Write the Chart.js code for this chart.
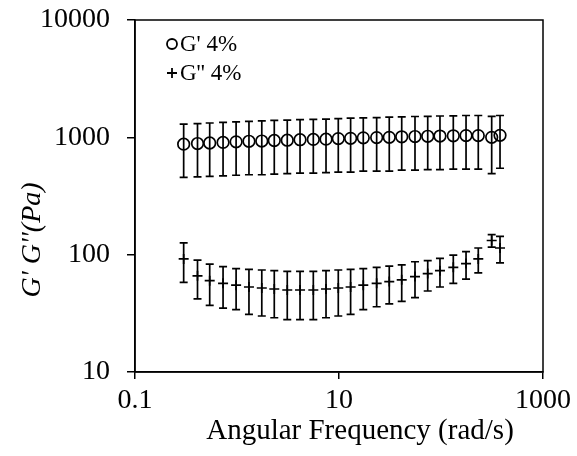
<!DOCTYPE html>
<html>
<head>
<meta charset="utf-8">
<title>G' G'' vs Angular Frequency</title>
<script src="https://cdn.jsdelivr.net/npm/chart.js@4.4.1/dist/chart.umd.min.js"></script>
<style>
    html, body { margin: 0; padding: 0; background: #fff; }
    #wrap { width: 577px; height: 456px; }
</style>
</head>
<body>
<div id="wrap"><canvas id="modulusChart" width="577" height="456"></canvas></div>
<script>
// Frequency sweep of the 4% sample
const frequencies = [0.30, 0.41, 0.54, 0.73, 0.98, 1.31, 1.75, 2.32, 3.11, 4.15, 5.6, 7.46, 9.84,
    13.0, 17.3, 23.4, 31.1, 41.2, 55.6, 74.1, 97.7, 132, 176, 232, 314, 379];

const storageModulus = [875, 885, 895, 905, 915, 925, 930, 940, 945, 955, 960, 965, 975,
    980, 990, 995, 1000, 1010, 1015, 1020, 1025, 1030, 1035, 1035, 1000, 1040];
const storageError = [420, 425, 430, 435, 440, 445, 450, 455, 455, 460, 465, 465, 470,
    475, 475, 480, 485, 485, 490, 490, 495, 495, 500, 500, 510, 495];

const lossModulus = [92, 66, 60, 57, 55, 53, 52, 51, 50, 50, 50, 51, 52,
    53, 55, 57, 59, 61, 65, 69, 73, 78, 84, 92, 132, 114];
const lossError = [34, 24, 23, 22, 21, 22, 22, 22, 22, 22, 22, 22, 22,
    22, 21, 21, 21, 21, 22, 20, 20, 21, 22, 22, 16, 29];

const xTickValues = [0.1, 10, 1000];
const yTickValues = [10, 100, 1000, 10000];

const SERIF = "'Liberation Serif', 'Times New Roman', serif";

document.addEventListener('DOMContentLoaded', function() {
    drawModulusChart();
});

function toPoints(xs, ys) {
    return xs.map((x, i) => ({ x: x, y: ys[i] }));
}

/**
 * Vertical error bars with caps, drawn through the chart scales
 */
const errorBars = {
    id: 'errorBars',
    afterDatasetsDraw(chart) {
        const ctx = chart.ctx;
        const xScale = chart.scales.x;
        const yScale = chart.scales.y;
        const cap = 4;
        ctx.save();
        ctx.strokeStyle = '#000';
        ctx.lineWidth = 1.7;
        chart.data.datasets.forEach(ds => {
            ds.errors.forEach((err, i) => {
                const pt = ds.data[i];
                const px = xScale.getPixelForValue(pt.x);
                const top = yScale.getPixelForValue(pt.y + err);
                const bot = yScale.getPixelForValue(pt.y - err);
                ctx.beginPath();
                ctx.moveTo(px, top);
                ctx.lineTo(px, bot);
                ctx.moveTo(px - cap, top);
                ctx.lineTo(px + cap, top);
                ctx.moveTo(px - cap, bot);
                ctx.lineTo(px + cap, bot);
                ctx.stroke();
            });
        });
        ctx.restore();
    }
};

/**
 * Box frame, legend inside the plot and the two axis titles
 */
const decorations = {
    id: 'decorations',
    afterDraw(chart) {
        const ctx = chart.ctx;
        const area = chart.chartArea;
        ctx.save();

        // frame
        ctx.strokeStyle = '#000';
        ctx.lineWidth = 1.5;
        ctx.strokeRect(area.left, area.top, area.right - area.left, area.bottom - area.top);

        // legend
        ctx.font = '23px ' + SERIF;
        ctx.textAlign = 'left';
        ctx.textBaseline = 'middle';
        chart.data.datasets.forEach((ds, i) => {
            const cy = area.top + 24 + i * 29;
            const cx = area.left + 37;
            ctx.fillStyle = 'rgba(0,0,0,0)';
            ctx.strokeStyle = '#000';
            ctx.lineWidth = 1.8;
            Chart.helpers.drawPoint(ctx, {
                pointStyle: ds.pointStyle,
                radius: 5,
                rotation: 0,
                borderWidth: 1.8
            }, cx, cy);
            ctx.fillStyle = '#000';
            ctx.fillText(ds.label, cx + 8, cy + 1);
        });

        // x axis title
        ctx.fillStyle = '#000';
        ctx.font = '29px ' + SERIF;
        ctx.textAlign = 'center';
        ctx.textBaseline = 'alphabetic';
        ctx.fillText('Angular Frequency (rad/s)', 360, 439);

        // y axis title
        ctx.translate(40, 240);
        ctx.rotate(-Math.PI / 2);
        ctx.font = 'italic 28px ' + SERIF;
        ctx.fillText("G' G''(Pa)", 0, 0);
        ctx.restore();
    }
};

function drawModulusChart() {
    const canvas = document.getElementById('modulusChart');
    if (!canvas) return;

    Chart.defaults.font.family = SERIF;
    Chart.defaults.color = '#000';

    new Chart(canvas, {
        type: 'scatter',
        data: {
            datasets: [
                {
                    label: "G' 4%",
                    data: toPoints(frequencies, storageModulus),
                    errors: storageError,
                    pointStyle: 'circle',
                    pointRadius: 5.8,
                    borderColor: '#000',
                    backgroundColor: 'rgba(0,0,0,0)',
                    borderWidth: 1.7
                },
                {
                    label: "G'' 4%",
                    data: toPoints(frequencies, lossModulus),
                    errors: lossError,
                    pointStyle: 'cross',
                    pointRadius: 5,
                    borderColor: '#000',
                    backgroundColor: '#000',
                    borderWidth: 1.7
                }
            ]
        },
        options: {
            responsive: false,
            animation: false,
            layout: {
                padding: { top: 20, right: 34, left: 0, bottom: 0 }
            },
            plugins: {
                legend: { display: false },
                tooltip: { enabled: false }
            },
            scales: {
                x: {
                    type: 'logarithmic',
                    min: 0.1,
                    max: 1000,
                    afterBuildTicks: axis => {
                        axis.ticks = xTickValues.map(v => ({ value: v }));
                    },
                    afterFit: axis => {
                        axis.height = 84;
                        axis.paddingLeft = 0;
                        axis.paddingRight = 0;
                    },
                    ticks: {
                        autoSkip: false,
                        maxRotation: 0,
                        padding: 5,
                        font: { size: 28 },
                        callback: value => String(value)
                    },
                    grid: {
                        drawOnChartArea: false,
                        tickLength: 7,
                        color: '#000',
                        lineWidth: 1.5
                    },
                    border: { color: '#000', width: 1.5 }
                },
                y: {
                    type: 'logarithmic',
                    min: 10,
                    max: 10000,
                    afterBuildTicks: axis => {
                        axis.ticks = yTickValues.map(v => ({ value: v }));
                    },
                    afterFit: axis => {
                        axis.width = 135;
                        axis.paddingTop = 0;
                        axis.paddingBottom = 0;
                    },
                    ticks: {
                        autoSkip: false,
                        padding: 17,
                        font: { size: 28 },
                        callback: value => String(value)
                    },
                    grid: {
                        drawOnChartArea: false,
                        tickLength: 8,
                        color: '#000',
                        lineWidth: 1.5
                    },
                    border: { color: '#000', width: 1.5 }
                }
            }
        },
        plugins: [errorBars, decorations]
    });
}
</script>
</body>
</html>
